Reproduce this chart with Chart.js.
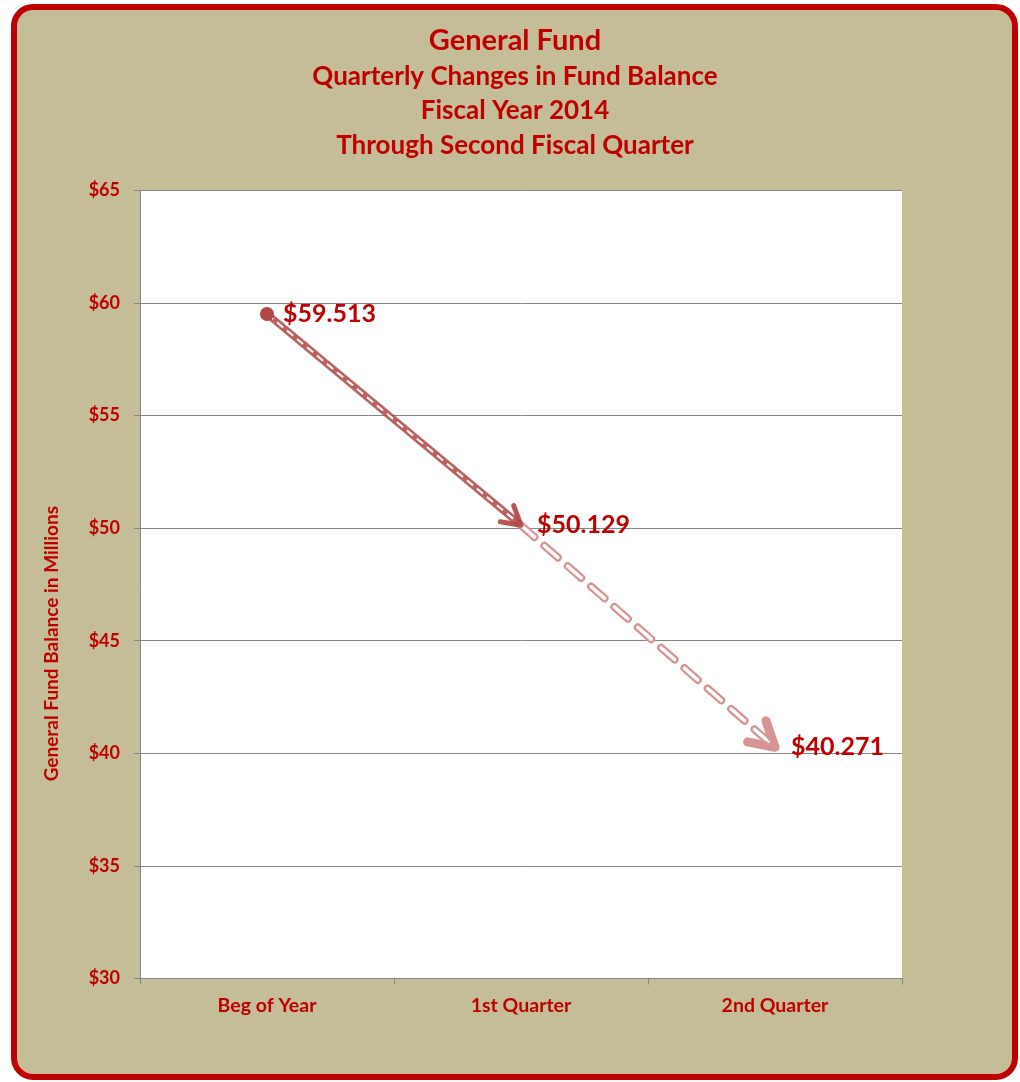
<!DOCTYPE html>
<html>
<head>
<meta charset="utf-8">
<script src="https://cdn.jsdelivr.net/npm/chart.js@4"></script>
<style>
  html, body { margin: 0; padding: 0; background: #fff; }
  #frame {
    position: absolute; left: 11px; top: 4px;
    width: 995px; height: 1064px;
    border: 6px solid #C00000; border-radius: 22px;
    background: #C4BD97;
  }
  #wrap { position: absolute; left: 0; top: 0; width: 1020px; height: 1082px; }
</style>
</head>
<body>
<div id="frame"></div>
<div id="wrap"><canvas id="fundChart" width="1020" height="1082"></canvas></div>
<script>
const categories = ['Beg of Year', '1st Quarter', '2nd Quarter'];
const balances = [59.513, 50.129, 40.271];
const valueLabels = ['$59.513', '$50.129', '$40.271'];
const titleLines = ['Quarterly Changes in Fund Balance', 'Fiscal Year 2014', 'Through Second Fiscal Quarter'];
const yTitle = 'General Fund Balance in Millions';

const RED = '#C00000';
const FONT = 'Lato, "Open Sans", sans-serif';

// white plot background
const plotBg = {
    id: 'plotBg',
    beforeDraw(chart) {
        const a = chart.chartArea;
        chart.ctx.save();
        chart.ctx.fillStyle = '#fff';
        chart.ctx.fillRect(a.left, a.top, a.right - a.left, a.bottom - a.top);
        chart.ctx.restore();
    }
};

// y axis title sits a bit below the middle like the original
const yTitlePlugin = {
    id: 'yTitle',
    afterDraw(chart) {
        const a = chart.chartArea;
        const ctx = chart.ctx;
        ctx.save();
        ctx.translate(52, a.top + (a.bottom - a.top) * 0.575);
        ctx.rotate(-Math.PI / 2);
        ctx.fillStyle = RED;
        ctx.font = 'bold 19px ' + FONT;
        ctx.textAlign = 'center';
        ctx.textBaseline = 'middle';
        ctx.fillText(yTitle, 0, 0);
        ctx.restore();
    }
};

// arrows and value labels drawn on top of the lines
const arrowPlugin = {
    id: 'arrows',
    afterDatasetsDraw(chart) {
        const ctx = chart.ctx;
        const pts = chart.getDatasetMeta(1).data;
        function arrow(from, to, color, width, len, inner) {
            const ang = Math.atan2(to.y - from.y, to.x - from.x);
            const spread = Math.PI / 6;
            ctx.save();
            ctx.lineCap = 'round';
            ctx.lineJoin = 'round';
            ctx.strokeStyle = color;
            ctx.lineWidth = width;
            ctx.beginPath();
            ctx.moveTo(to.x - len * Math.cos(ang - spread), to.y - len * Math.sin(ang - spread));
            ctx.lineTo(to.x, to.y);
            ctx.lineTo(to.x - len * Math.cos(ang + spread), to.y - len * Math.sin(ang + spread));
            ctx.stroke();
            if (inner) {
                ctx.strokeStyle = '#fff';
                ctx.lineWidth = 2;
                ctx.beginPath();
                ctx.moveTo(to.x - 14 * Math.cos(ang), to.y - 14 * Math.sin(ang));
                ctx.lineTo(to.x - 8 * Math.cos(ang), to.y - 8 * Math.sin(ang));
                ctx.stroke();
            }
            ctx.restore();
        }
        arrow(pts[0], pts[1], 'rgba(176,68,68,0.9)', 5, 21, false);
        arrow(pts[1], pts[2], '#D79494', 9, 28, true);

        ctx.save();
        ctx.fillStyle = RED;
        ctx.font = 'bold 25px ' + FONT;
        ctx.textBaseline = 'middle';
        ctx.textAlign = 'left';
        pts.forEach((p, i) => {
            ctx.fillText(valueLabels[i], p.x + 16, p.y);
        });
        ctx.restore();
    }
};

const ctx = document.getElementById('fundChart').getContext('2d');
const fundChart = new Chart(ctx, {
    type: 'line',
    data: {
        labels: categories,
        datasets: [{
            // white centre of the line
            data: balances,
            order: 1,
            borderColor: '#fff',
            borderWidth: 2,
            fill: false,
            pointRadius: [6, 0, 0],
            pointBackgroundColor: '#B04848',
            pointBorderColor: '#B04848',
            segment: {
                borderDash: c => c.p0DataIndex === 0 ? [8, 5] : [18, 13],
                borderWidth: c => c.p0DataIndex === 0 ? 2 : 3.5,
                borderCapStyle: c => c.p0DataIndex === 0 ? 'butt' : 'round'
            }
        }, {
            data: balances,
            order: 2,
            borderWidth: 7,
            fill: false,
            pointRadius: 0,
            borderCapStyle: 'round',
            segment: {
                borderColor: c => c.p0DataIndex === 0 ? 'rgba(176,68,68,0.85)' : '#D79494',
                borderDash: c => c.p0DataIndex === 0 ? [] : [18, 13],
                borderWidth: c => c.p0DataIndex === 0 ? 7 : 8
            }
        }]
    },
    options: {
        responsive: false,
        animation: false,
        layout: { padding: { left: 10, right: 0, top: 0, bottom: 56 } },
        plugins: {
            legend: { display: false },
            tooltip: { enabled: false },
            title: {
                display: true,
                text: 'General Fund',
                color: RED,
                font: { family: FONT, size: 29, weight: 'bold', lineHeight: 1.1 },
                padding: { top: 25, bottom: 2 }
            },
            subtitle: {
                display: true,
                text: titleLines,
                color: RED,
                font: { family: FONT, size: 26, weight: 'bold', lineHeight: 1.327 },
                padding: { top: 0, bottom: 28 }
            }
        },
        scales: {
            x: {
                offset: true,
                grid: { offset: true, drawOnChartArea: false, drawTicks: true, tickLength: 6, color: '#868686' },
                border: { color: '#868686', width: 1 },
                ticks: { color: RED, font: { family: FONT, size: 19.5, weight: 'bold' }, padding: 9 }
            },
            y: {
                min: 30,
                max: 65,
                afterFit: s => { s.width = 130; },
                grid: { color: '#868686', tickLength: 6 },
                border: { color: '#868686', width: 1 },
                ticks: {
                    stepSize: 5,
                    color: RED,
                    padding: 14,
                    font: { family: FONT, size: 18, weight: 'bold' },
                    callback: v => '$' + v
                }
            },
            // empty right-hand axis: keeps the plot area narrower so the title sits centred on the frame
            y2: {
                position: 'right',
                afterFit: s => { s.width = 118; },
                ticks: { display: false },
                grid: { display: false },
                border: { display: false }
            }
        }
    },
    plugins: [plotBg, arrowPlugin, yTitlePlugin]
});
</script>
</body>
</html>
